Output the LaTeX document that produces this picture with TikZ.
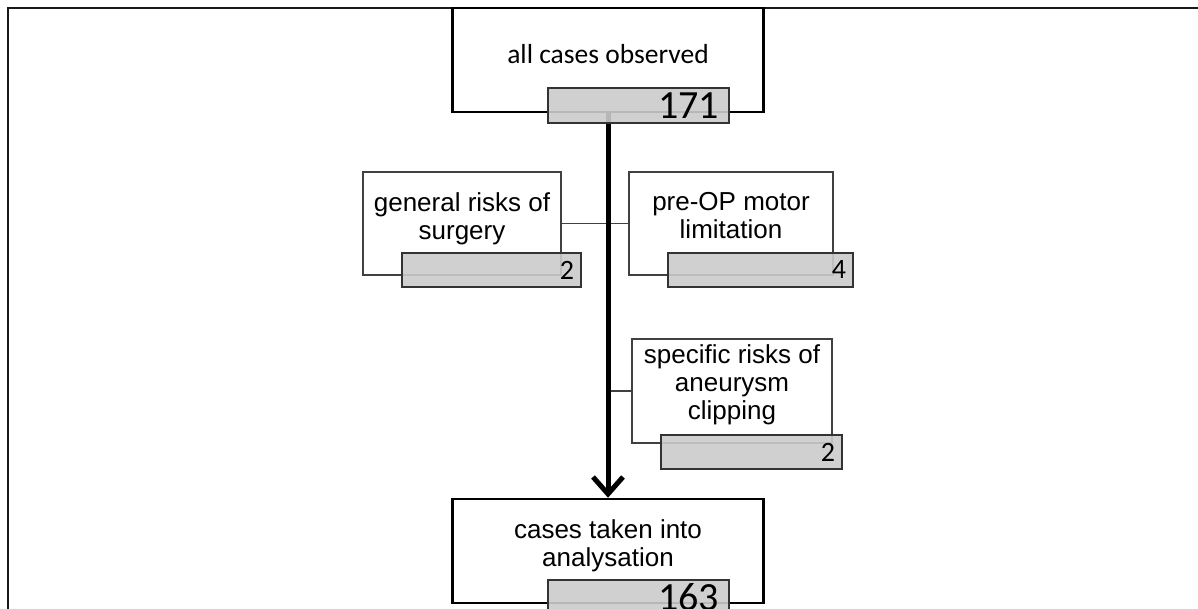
\documentclass[tikz,border=0pt]{standalone}
\usepackage{fontspec}
\setmainfont{Liberation Sans}
\newfontfamily\calibri{Carlito}
\usepackage{tikz}
\usetikzlibrary{arrows.meta, calc}

\begin{document}
\begin{tikzpicture}[x=1pt, y=-1pt,
  mainbox/.style={draw=black, line width=2.5pt, fill=white, minimum width=311pt, minimum height=104pt, inner sep=0pt},
  sidebox/.style={draw=black!75, line width=1.2pt, fill=white, inner sep=0pt},
  countbox/.style={draw=black!80, line width=1.2pt, fill={rgb,255:red,203;green,203;blue,203}, fill opacity=0.9, text opacity=1, align=right, inner xsep=7pt, inner ysep=0pt, minimum height=34pt, font=\calibri\fontsize{28}{30}\selectfont},
  bigcount/.style={countbox, inner xsep=10pt, minimum height=35pt, font=\calibri\fontsize{40}{40}\selectfont},
  boxtext/.style={align=center, inner sep=0pt, font=\fontsize{26}{28}\selectfont},
  link/.style={draw=black!75, line width=1.2pt},
  flow/.style={line width=5pt, -{Straight Barb[length=17pt, width=30pt]}}]

\useasboundingbox (0,0) rectangle (1198,609);
\clip (0,0) rectangle (1198,609);

% --- Rahmen ---
\draw[line width=2.5pt, black!90] (8,609) -- (8,8) -- (1198,8);

% --- Kaesten ---
\node[mainbox] (all) at (608,60) {};
\node[inner sep=0pt, font=\calibri\fontsize{27.5}{30}\selectfont] (allt) at ([yshift=6pt]all.center) {all cases observed};

\node[sidebox, minimum width=198pt, minimum height=103pt] (gen) at (462,223.5) {};
\node[boxtext] (gent) at ([yshift=5pt]gen.center) {general risks of\\surgery};

\node[sidebox, minimum width=204pt, minimum height=103pt] (pre) at (731,223.5) {};
\node[boxtext] (pret) at ([yshift=7.5pt]pre.center) {pre-OP motor\\limitation};

\node[sidebox, minimum width=200pt, minimum height=104pt] (spec) at (732,391) {};
\node[boxtext] (spect) at ([yshift=6.5pt]spec.center) {specific risks of\\aneurysm\\clipping};

\node[mainbox] (ana) at (608,551) {};
\node[boxtext] (anat) at ([yshift=5.5pt]ana.center) {cases taken into\\analysation};

% --- Verbindungen ---
\draw[link] (gen.east) -- (pre.west);
\draw[link] (spec.west -| all.south) -- (spec.west);
\draw[flow] (all.south) -- (ana.north);

% --- Fallzahlen ---
\node[bigcount, text width=161pt] (allcnt) at (638.5,105.5) {171};
\node[countbox, text width=165pt] (gencnt) at (491.5,270) {2};
\node[countbox, text width=171pt] (precnt) at (760.5,270) {4};
\node[countbox, text width=167pt] (speccnt) at (751.5,452) {2};
\node[bigcount, text width=161pt] (anacnt) at (638.5,597.5) {163};

\end{tikzpicture}
\end{document}
